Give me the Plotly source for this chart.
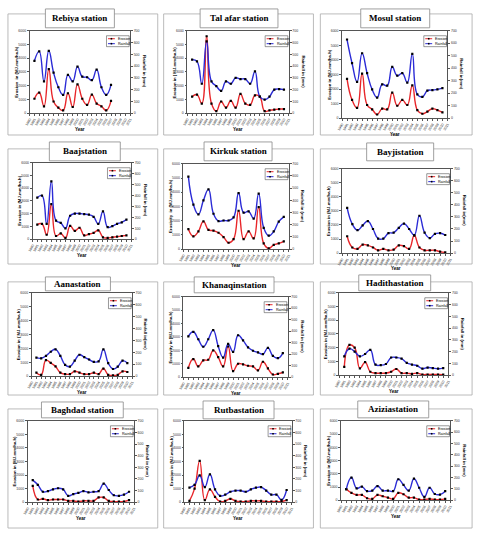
import plotly.graph_objects as go

W, H = 480, 533

axis_years = list(range(1990, 2012))

stations = ["Rebiya station", "Tal afar station", "Mosul station",
            "Baajstation", "Kirkuk station", "Bayjistation",
            "Aanastation", "Khanaqinstation", "Hadithastation",
            "Baghdad station", "Rutbastation", "Aziziastation"]

years_rebiya = list(range(1991, 2008))
years_20 = list(range(1991, 2011))

erosion_rebiya = [1050, 1500, 500, 3200, 850, 400, 200, 1450, 450, 2100, 1050, 600, 1350, 700, 500, 200, 900]
rain_rebiya = [445, 525, 270, 530, 345, 220, 155, 325, 270, 395, 310, 305, 280, 370, 220, 155, 240]

erosion_talafar = [1200, 1350, 700, 5600, 700, 150, 850, 400, 900, 400, 1400, 700, 600, 1300, 1200, 150, 200, 250, 300, 300]
rain_talafar = [455, 440, 250, 610, 270, 230, 190, 270, 250, 300, 290, 290, 250, 355, 140, 115, 140, 200, 205, 200]

erosion_mosul = [2700, 1250, 700, 3050, 900, 600, 250, 650, 600, 1750, 850, 1250, 900, 2250, 550, 300, 450, 650, 550, 400]
rain_mosul = [630, 440, 290, 520, 360, 230, 165, 270, 260, 410, 340, 360, 285, 515, 190, 170, 220, 225, 230, 240]

erosion_baaj = [1150, 1200, 350, 2750, 250, 450, 100, 1050, 650, 900, 300, 400, 500, 700, 150, 100, 150, 200, 250, 300]
rain_baaj = [380, 400, 140, 530, 170, 150, 100, 215, 235, 235, 230, 225, 205, 140, 255, 110, 120, 140, 155, 180]

erosion_kirkuk = [1400, 900, 1250, 1950, 1350, 1300, 1150, 850, 450, 700, 2700, 700, 1250, 750, 2950, 400, 50, 300, 400, 550]
rain_kirkuk = [595, 365, 285, 400, 490, 290, 230, 235, 235, 260, 460, 300, 310, 250, 455, 175, 110, 145, 225, 265]

erosion_bayji = [1200, 400, 300, 600, 550, 400, 200, 300, 200, 250, 550, 500, 300, 1250, 400, 200, 200, 200, 100, 50]
rain_bayji = [375, 240, 190, 230, 265, 200, 120, 120, 165, 170, 210, 245, 200, 150, 310, 170, 125, 160, 165, 150]

erosion_aana = [250, 100, 1150, 950, 700, 250, 150, 150, 350, 250, 150, 150, 250, 150, 550, 100, 50, 100, 350, 300]
rain_aana = [155, 150, 170, 205, 225, 170, 95, 80, 130, 180, 160, 140, 120, 125, 225, 110, 60, 80, 130, 110]

erosion_khanaqin = [700, 1350, 800, 1250, 1300, 2000, 1500, 800, 2300, 450, 1000, 950, 850, 800, 500, 1150, 650, 200, 250, 350]
rain_khanaqin = [355, 395, 330, 265, 330, 410, 270, 170, 290, 220, 365, 320, 260, 230, 215, 200, 255, 185, 165, 210]

erosion_haditha = [600, 2200, 2000, 500, 950, 250, 150, 150, 150, 250, 450, 150, 150, 100, 150, 50, 50, 50, 50, 40]
rain_haditha = [160, 225, 200, 160, 180, 215, 90, 85, 95, 150, 150, 140, 105, 90, 80, 55, 65, 60, 55, 60]

erosion_baghdad = [1200, 200, 250, 150, 200, 200, 200, 100, 100, 50, 100, 100, 100, 350, 350, 100, 50, 50, 50, 150]
rain_baghdad = [190, 150, 90, 95, 110, 120, 110, 55, 70, 80, 95, 85, 90, 95, 160, 105, 60, 55, 65, 90]

erosion_rutba = [100, 1000, 3050, 150, 950, 400, 50, 100, 250, 100, 50, 50, 100, 100, 100, 50, 50, 50, 50, 150]
rain_rutba = [125, 150, 230, 130, 240, 110, 55, 65, 90, 100, 100, 90, 110, 125, 130, 100, 65, 65, 20, 105]

erosion_azizia = [850, 550, 400, 400, 150, 100, 400, 300, 200, 100, 550, 450, 200, 200, 50, 50, 100, 50, 50, 100]
rain_azizia = [95, 200, 105, 120, 80, 85, 125, 85, 85, 80, 185, 135, 85, 190, 110, 30, 110, 55, 50, 80]

series = [
    (years_rebiya, erosion_rebiya, rain_rebiya),
    (years_20, erosion_talafar, rain_talafar),
    (years_20, erosion_mosul, rain_mosul),
    (years_20, erosion_baaj, rain_baaj),
    (years_20, erosion_kirkuk, rain_kirkuk),
    (years_20, erosion_bayji, rain_bayji),
    (years_20, erosion_aana, rain_aana),
    (years_20, erosion_khanaqin, rain_khanaqin),
    (years_20, erosion_haditha, rain_haditha),
    (years_20, erosion_baghdad, rain_baghdad),
    (years_20, erosion_rutba, rain_rutba),
    (years_20, erosion_azizia, rain_azizia),
]

left_titles = ["Erosion  in (MJ.mm/ha.h)", "Erosion in ( MJ.mm/ha.h)", "Erosion in (MJ.mm/ha.h)",
               "Erosion in (MJ.mm/ha.h)", "Erosivity  in (MJ.mm/ha.h)", "Erosion in (MJ.mm/ha.h)",
               "Erosion in ( MJ.mm/ha.h)", "Erosivity in (MJ.mm/ha.h)", "Erosion in (MJ.mm/ha.h)",
               "Erosion in (MJ.mm/ha.h)", "Erosion in (MJ.mm/ha.h)", "Erosion in (MJ.mm/ha.h)"]
right_titles = ["Rainfall in (mm)", "Rainfall in (mm)", "Rainfall in(mm)",
                "Rainfall in (mm)", "Rainfall in (mm)", "Rainfall in(mm)",
                "Rainfall in(mm)", "Rainfall in (mm)", "Rainfall in (mm)",
                "Rainfall in (mm)", "Rainfall in (mm)", "Rainfall in (mm)"]

# layout geometry (pixels)
plots = [(25, 29, 127, 112), (185, 29, 288, 112), (342, 29, 449, 117),
         (28, 162, 128, 239), (181, 163, 288, 249), (342, 168, 452, 253),
         (27, 293, 129, 377), (181, 297, 287, 378), (339, 293, 450, 376),
         (23, 422, 131, 504), (182, 422, 291, 504), (341, 422, 452, 502)]
titles = [(41, 7, 111, 26), (198, 7, 277, 26), (361, 7, 431, 26),
          (45, 141, 117, 160), (202, 141, 271, 160), (367, 142, 435, 160),
          (41, 277, 107, 291), (192, 277, 273, 293), (359, 275, 432, 291),
          (37, 403, 120, 419), (201, 402, 273, 420), (358, 402, 430, 419)]
col_x = [(3, 155), (161, 313), (320, 474)]
row_y = [(12, 134), (148, 264), (282, 396), (410, 530)]

SANS = "Liberation Sans, Arial"


def fx(x):
    return x / W


def fy(y):
    return 1 - y / H


fig = go.Figure()
shapes = []
annotations = []
layout = {}

for i, (name, (yrs, ero, rain)) in enumerate(zip(stations, series)):
    n = i + 1
    xid = "x" if n == 1 else f"x{n}"
    yl = 2 * n - 1
    yr = 2 * n
    ylid = "y" if yl == 1 else f"y{yl}"
    yrid = f"y{yr}"
    x0, y0, x1, y1 = plots[i]

    fig.add_trace(go.Scatter(x=yrs, y=ero, xaxis=xid, yaxis=ylid, mode="lines+markers",
                             line=dict(color="#e8262a", width=1.4, shape="spline", smoothing=1.3),
                             marker=dict(symbol="square", size=2.2, color="black"),
                             showlegend=False, name="Erosion"))
    fig.add_trace(go.Scatter(x=yrs, y=rain, xaxis=xid, yaxis=yrid, mode="lines+markers",
                             line=dict(color="#2b2bd6", width=1.4, shape="spline", smoothing=1.3),
                             marker=dict(symbol="square", size=2.2, color="black"),
                             showlegend=False, name="Rainfall"))

    xkey = "xaxis" if n == 1 else f"xaxis{n}"
    ylkey = "yaxis" if yl == 1 else f"yaxis{yl}"
    yrkey = f"yaxis{yr}"
    common = dict(showgrid=False, zeroline=False, showline=True, linecolor="#555",
                  linewidth=0.6, ticks="outside", ticklen=2, tickwidth=0.5, tickcolor="#555",
                  tickfont=dict(size=3.5, family=SANS, color="#333"))
    layout[xkey] = dict(domain=[fx(x0), fx(x1)], anchor=ylid, range=[1990, 2011],
                        tickvals=axis_years, ticktext=[str(v) for v in axis_years],
                        tickangle=-60, mirror=True, **common)
    layout[ylkey] = dict(domain=[fy(y1), fy(y0)], anchor=xid, range=[0, 6000],
                         dtick=1000, **common)
    layout[yrkey] = dict(domain=[fy(y1), fy(y0)], anchor=xid, range=[0, 700],
                         dtick=100, overlaying=ylid, side="right", **common)

    # panel border
    cx = col_x[i % 3]
    ry = row_y[i // 3]
    shapes.append(dict(type="rect", xref="paper", yref="paper", x0=fx(cx[0]), x1=fx(cx[1]),
                       y0=fy(ry[1]), y1=fy(ry[0]), line=dict(color="#aaa", width=0.8),
                       layer="below"))
    # title box
    tx0, ty0, tx1, ty1 = titles[i]
    shapes.append(dict(type="rect", xref="paper", yref="paper", x0=fx(tx0), x1=fx(tx1),
                       y0=fy(ty1), y1=fy(ty0), line=dict(color="#888", width=0.8),
                       fillcolor="white"))
    annotations.append(dict(text=f"<b>{name}</b>", xref="paper", yref="paper",
                            x=fx((tx0 + tx1) / 2), y=fy((ty0 + ty1) / 2), showarrow=False,
                            xanchor="center", yanchor="middle",
                            font=dict(size=9, family="Liberation Serif, Times New Roman", color="black")))
    # axis titles
    annotations.append(dict(text=f"<b>{left_titles[i]}</b>", xref="paper", yref="paper",
                            x=fx(x0 - 13), y=fy((y0 + y1) / 2), showarrow=False, textangle=-90,
                            xanchor="center", yanchor="middle",
                            font=dict(size=4.3, family=SANS, color="black")))
    annotations.append(dict(text=f"<b>{right_titles[i]}</b>", xref="paper", yref="paper",
                            x=fx(x1 + 14), y=fy((y0 + y1) / 2), showarrow=False, textangle=90,
                            xanchor="center", yanchor="middle",
                            font=dict(size=4.3, family=SANS, color="black")))
    annotations.append(dict(text="<b>Year</b>", xref="paper", yref="paper",
                            x=fx((x0 + x1) / 2), y=fy(y1 + 16), showarrow=False,
                            xanchor="center", yanchor="middle",
                            font=dict(size=4.5, family=SANS, color="black")))
    # legend box
    lw, lh = 23, 11
    lx1 = x1 - 1
    lx0 = lx1 - lw
    ly0 = y0 + 5
    ly1 = ly0 + lh
    shapes.append(dict(type="rect", xref="paper", yref="paper", x0=fx(lx0), x1=fx(lx1),
                       y0=fy(ly1), y1=fy(ly0), line=dict(color="#333", width=0.5),
                       fillcolor="white"))
    for k, (lab, col) in enumerate([("Erosion", "#e8262a"), ("Rainfall", "#2b2bd6")]):
        yy = ly0 + 3 + k * 5
        shapes.append(dict(type="line", xref="paper", yref="paper", x0=fx(lx0 + 1.5), x1=fx(lx0 + 8.5),
                           y0=fy(yy), y1=fy(yy), line=dict(color=col, width=1)))
        shapes.append(dict(type="rect", xref="paper", yref="paper", x0=fx(lx0 + 4.2), x1=fx(lx0 + 5.8),
                           y0=fy(yy + 0.8), y1=fy(yy - 0.8), line=dict(width=0), fillcolor="black"))
        annotations.append(dict(text=lab, xref="paper", yref="paper", x=fx(lx0 + 9.5), y=fy(yy),
                                showarrow=False, xanchor="left", yanchor="middle",
                                font=dict(size=3.6, family=SANS, color="black")))

fig.update_layout(width=W, height=H, margin=dict(l=0, r=0, t=0, b=0),
                  paper_bgcolor="white", plot_bgcolor="white",
                  shapes=shapes, annotations=annotations, showlegend=False, **layout)

fig.write_html("out.html")
